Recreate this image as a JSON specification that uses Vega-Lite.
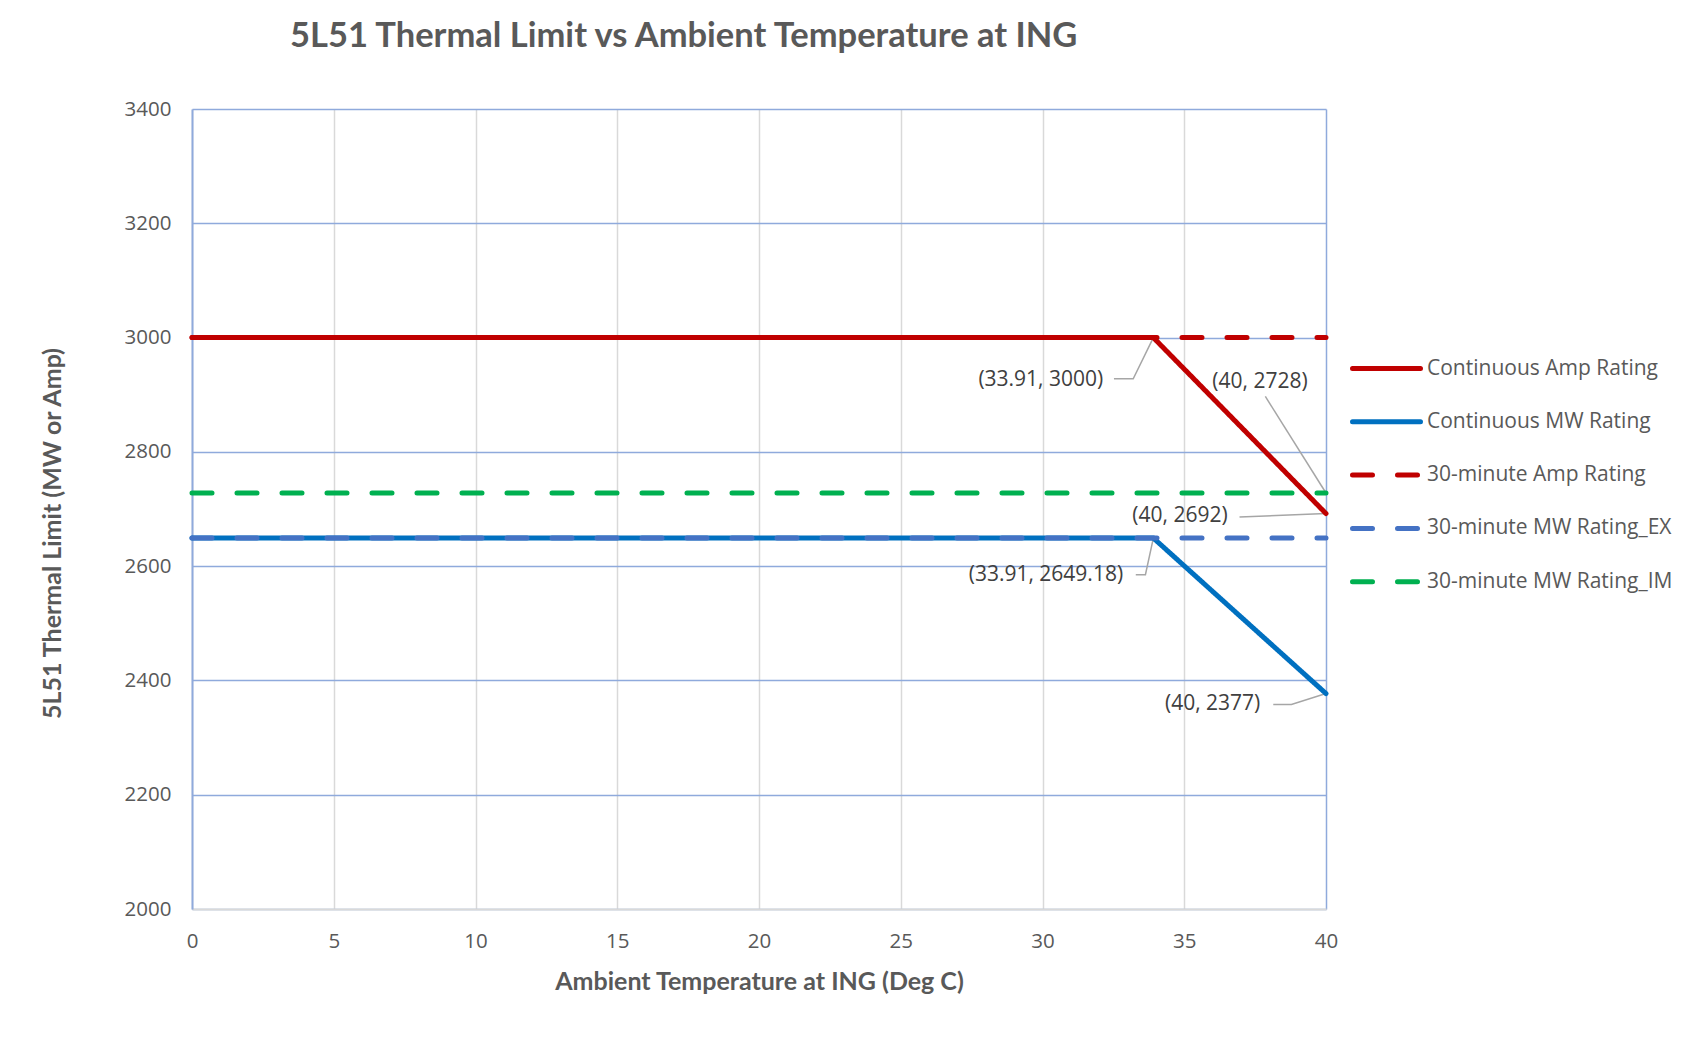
{
  "$schema": "https://vega.github.io/schema/vega-lite/v6.json",
  "width": 1134,
  "height": 800,
  "autosize": {"type": "none"},
  "padding": {"left": 192, "top": 109, "right": 370, "bottom": 128},
  "background": "white",
  "title": {
    "text": "5L51 Thermal Limit vs Ambient Temperature at ING",
    "font": "Lato",
    "fontSize": 34.5,
    "fontWeight": "bold",
    "color": "#595959",
    "anchor": "start",
    "frame": "group",
    "dx": 98,
    "offset": 45
  },
  "datasets": {
    "lines": [
      {"series": "Continuous Amp Rating", "t": 0, "v": 3000},
      {"series": "Continuous Amp Rating", "t": 33.91, "v": 3000},
      {"series": "Continuous Amp Rating", "t": 40, "v": 2692},
      {"series": "Continuous MW Rating", "t": 0, "v": 2649.18},
      {"series": "Continuous MW Rating", "t": 33.91, "v": 2649.18},
      {"series": "Continuous MW Rating", "t": 40, "v": 2377},
      {"series": "30-minute Amp Rating", "t": 0, "v": 3000},
      {"series": "30-minute Amp Rating", "t": 40, "v": 3000},
      {"series": "30-minute MW Rating_EX", "t": 0, "v": 2649.18},
      {"series": "30-minute MW Rating_EX", "t": 40, "v": 2649.18},
      {"series": "30-minute MW Rating_IM", "t": 0, "v": 2728},
      {"series": "30-minute MW Rating_IM", "t": 40, "v": 2728}
    ],
    "labels": [
      {"label": "(33.91, 3000)", "t": 29.94, "v": 2925},
      {"label": "(40, 2728)", "t": 37.67, "v": 2922},
      {"label": "(40, 2692)", "t": 34.85, "v": 2687},
      {"label": "(33.91, 2649.18)", "t": 30.12, "v": 2585},
      {"label": "(40, 2377)", "t": 36.0, "v": 2358}
    ],
    "leaders": [
      {"g": 1, "o": 1, "t": 32.52, "v": 2928},
      {"g": 1, "o": 2, "t": 33.2, "v": 2928},
      {"g": 1, "o": 3, "t": 33.91, "v": 3000},
      {"g": 2, "o": 1, "t": 37.86, "v": 2897},
      {"g": 2, "o": 2, "t": 40, "v": 2728},
      {"g": 3, "o": 1, "t": 36.95, "v": 2686},
      {"g": 3, "o": 2, "t": 40, "v": 2692},
      {"g": 4, "o": 1, "t": 33.29, "v": 2585},
      {"g": 4, "o": 2, "t": 33.63, "v": 2585},
      {"g": 4, "o": 3, "t": 33.91, "v": 2649.18},
      {"g": 5, "o": 1, "t": 38.14, "v": 2358},
      {"g": 5, "o": 2, "t": 38.78, "v": 2358},
      {"g": 5, "o": 3, "t": 40, "v": 2377}
    ]
  },
  "layer": [
    {
      "data": {"name": "leaders"},
      "mark": {"type": "line", "stroke": "#A6A6A6", "strokeWidth": 1.5},
      "encoding": {
        "x": {"field": "t", "type": "quantitative"},
        "y": {"field": "v", "type": "quantitative"},
        "detail": {"field": "g"},
        "order": {"field": "o"}
      }
    },
    {
      "data": {"name": "lines"},
      "transform": [{"filter": "datum.series === 'Continuous Amp Rating'"}],
      "mark": {"type": "line", "strokeWidth": 5, "strokeCap": "round"},
      "encoding": {
        "x": {
          "field": "t", "type": "quantitative",
          "scale": {"domain": [0, 40], "nice": false, "zero": false},
          "axis": {
            "values": [0, 5, 10, 15, 20, 25, 30, 35, 40],
            "title": "Ambient Temperature at ING (Deg C)",
            "grid": true,
            "gridColor": {"condition": {"test": "datum.value === 40", "value": "#8FAADC"}, "value": "#D9D9D9"},
            "gridWidth": 1.5,
            "domainColor": "#D9D9D9",
            "domainWidth": 2,
            "ticks": false,
            "labelFlush": false,
            "labelPadding": 22,
            "labelFont": "Open Sans",
            "labelFontSize": 20.5,
            "labelColor": "#595959",
            "titleFont": "Lato",
            "titleFontSize": 25,
            "titleFontWeight": "bold",
            "titleColor": "#595959",
            "titlePadding": 18
          }
        },
        "y": {
          "field": "v", "type": "quantitative",
          "scale": {"domain": [2000, 3400], "nice": false, "zero": false},
          "axis": {
            "values": [2000, 2200, 2400, 2600, 2800, 3000, 3200, 3400],
            "format": "d",
            "title": "5L51 Thermal Limit (MW or Amp)",
            "grid": true,
            "gridColor": "#8FAADC",
            "gridWidth": 1.5,
            "domainColor": "#8FAADC",
            "domainWidth": 2,
            "ticks": false,
            "labelFlush": false,
            "labelPadding": 21,
            "labelFont": "Open Sans",
            "labelFontSize": 20.5,
            "labelColor": "#595959",
            "titleFont": "Lato",
            "titleFontSize": 25,
            "titleFontWeight": "bold",
            "titleColor": "#595959",
            "titleX": -140,
            "titleY": 424,
            "titleAngle": -90,
            "titleAlign": "center",
            "titleBaseline": "middle"
          }
        },
        "color": {
          "field": "series", "type": "nominal",
          "scale": {
            "domain": ["Continuous Amp Rating", "Continuous MW Rating", "30-minute Amp Rating", "30-minute MW Rating_EX", "30-minute MW Rating_IM"],
            "range": ["#C00000", "#0070C0", "#C00000", "#4472C4", "#00B050"]
          },
          "legend": {
            "title": null,
            "orient": "none",
            "legendX": 1158,
            "legendY": 223,
            "symbolType": "stroke",
            "symbolSize": 4624,
            "symbolStrokeWidth": 5,
            "labelFont": "Open Sans",
            "labelFontSize": 21,
            "labelColor": "#595959",
            "labelOffset": 4,
            "rowPadding": 6.3,
            "labelLimit": 400,
            "encode": {"symbols": {"update": {"strokeCap": {"value": "round"}}}}
          }
        },
        "strokeDash": {
          "field": "series", "type": "nominal",
          "scale": {
            "domain": ["Continuous Amp Rating", "Continuous MW Rating", "30-minute Amp Rating", "30-minute MW Rating_EX", "30-minute MW Rating_IM"],
            "range": [[1, 0], [1, 0], [20, 25], [20, 25], [20, 25]]
          },
          "legend": null
        }
      }
    },
    {
      "data": {"name": "lines"},
      "transform": [{"filter": "datum.series === 'Continuous MW Rating'"}],
      "mark": {"type": "line", "strokeWidth": 5, "strokeCap": "round"},
      "encoding": {
        "x": {"field": "t", "type": "quantitative"},
        "y": {"field": "v", "type": "quantitative"},
        "color": {"field": "series", "type": "nominal"},
        "strokeDash": {"field": "series", "type": "nominal"}
      }
    },
    {
      "data": {"name": "lines"},
      "transform": [{"filter": "datum.series === '30-minute Amp Rating'"}],
      "mark": {"type": "line", "strokeWidth": 5, "strokeCap": "round"},
      "encoding": {
        "x": {"field": "t", "type": "quantitative"},
        "y": {"field": "v", "type": "quantitative"},
        "color": {"field": "series", "type": "nominal"},
        "strokeDash": {"field": "series", "type": "nominal"}
      }
    },
    {
      "data": {"name": "lines"},
      "transform": [{"filter": "datum.series === '30-minute MW Rating_EX'"}],
      "mark": {"type": "line", "strokeWidth": 5, "strokeCap": "round"},
      "encoding": {
        "x": {"field": "t", "type": "quantitative"},
        "y": {"field": "v", "type": "quantitative"},
        "color": {"field": "series", "type": "nominal"},
        "strokeDash": {"field": "series", "type": "nominal"}
      }
    },
    {
      "data": {"name": "lines"},
      "transform": [{"filter": "datum.series === '30-minute MW Rating_IM'"}],
      "mark": {"type": "line", "strokeWidth": 5, "strokeCap": "round"},
      "encoding": {
        "x": {"field": "t", "type": "quantitative"},
        "y": {"field": "v", "type": "quantitative"},
        "color": {"field": "series", "type": "nominal"},
        "strokeDash": {"field": "series", "type": "nominal"}
      }
    },
    {
      "data": {"name": "labels"},
      "mark": {"type": "text", "font": "Open Sans", "fontSize": 21, "color": "#404040", "align": "center", "baseline": "middle"},
      "encoding": {
        "x": {"field": "t", "type": "quantitative"},
        "y": {"field": "v", "type": "quantitative"},
        "text": {"field": "label"}
      }
    }
  ],
  "config": {"view": {"stroke": null}}
}
